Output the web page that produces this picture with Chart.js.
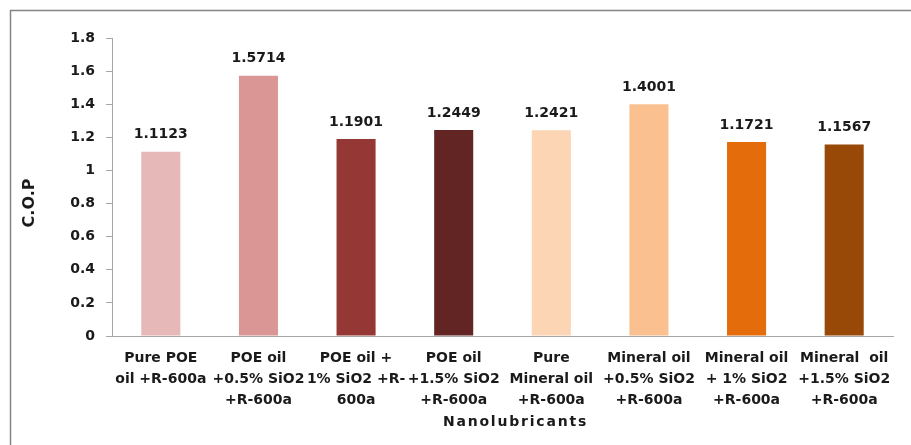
<!DOCTYPE html>
<html>
<head>
<meta charset="utf-8">
<script src="https://cdn.jsdelivr.net/npm/chart.js@4/dist/chart.umd.min.js"></script>
<style>
  html, body { margin: 0; padding: 0; background: #fff; }
  #wrap { position: relative; width: 911px; height: 445px; }
</style>
</head>
<body>
<div id="wrap"><canvas id="c" width="911" height="445"></canvas></div>
<script>
// Coefficient of performance for each nanolubricant blend
const categories = [
  ["Pure POE", "oil +R-600a"],
  ["POE oil", "+0.5% SiO2", "+R-600a"],
  ["POE oil +", "1% SiO2 +R-", "600a"],
  ["POE oil", "+1.5% SiO2", "+R-600a"],
  ["Pure", "Mineral oil", "+R-600a"],
  ["Mineral oil", "+0.5% SiO2", "+R-600a"],
  ["Mineral oil", "+ 1% SiO2", "+R-600a"],
  ["Mineral  oil", "+1.5% SiO2", "+R-600a"]
];
const copValues = [1.1123, 1.5714, 1.1901, 1.2449, 1.2421, 1.4001, 1.1721, 1.1567];
const barColors = ["#E6B9B8", "#D99694", "#953735", "#632523", "#FCD5B5", "#FAC090", "#E46C0A", "#984807"];
const yTickLabels = ["0", "0.2", "0.4", "0.6", "0.8", "1", "1.2", "1.4", "1.6", "1.8"];
const yTitle = "C.O.P";
const xTitle = "Nanolubricants";

const FONT = "'DejaVu Sans', sans-serif";
const INK = "#1a1a1a";

// Outer frame, value labels and axis titles
const decorations = {
  id: 'decorations',
  beforeDraw(chart) {
    const ctx = chart.ctx;
    ctx.save();
    ctx.strokeStyle = '#848484';
    ctx.lineWidth = 1.5;
    ctx.beginPath();
    ctx.moveTo(10.5, 460);
    ctx.lineTo(10.5, 10.5);
    ctx.lineTo(960, 10.5);
    ctx.stroke();
    ctx.restore();
  },
  afterDraw(chart) {
    const ctx = chart.ctx;
    const area = chart.chartArea;
    const meta = chart.getDatasetMeta(0);
    ctx.save();
    ctx.fillStyle = INK;
    ctx.font = "bold 14px " + FONT;
    ctx.textAlign = 'center';
    ctx.textBaseline = 'middle';
    meta.data.forEach((bar, i) => {
      ctx.fillText(copValues[i].toFixed(4), bar.x, bar.y - 17);
    });

    // x axis title
    ctx.font = "bold 14px " + FONT;
    ctx.letterSpacing = '1.8px';
    ctx.fillText(xTitle, (area.left + area.right) / 2 + 13, 422);
    ctx.letterSpacing = '0px';

    // y axis title
    ctx.translate(30, 203);
    ctx.rotate(-Math.PI / 2);
    ctx.font = "bold 16px " + FONT;
    ctx.fillText(yTitle, 0, 0);
    ctx.restore();
  }
};

new Chart(document.getElementById('c'), {
  type: 'bar',
  data: {
    labels: categories,
    datasets: [{
      data: copValues,
      backgroundColor: barColors,
      borderWidth: 0,
      categoryPercentage: 0.8,
      barPercentage: 0.5
    }]
  },
  options: {
    responsive: false,
    animation: false,
    devicePixelRatio: 1,
    layout: { padding: { top: 38, right: 18, left: 0, bottom: 0 } },
    plugins: { legend: { display: false }, tooltip: { enabled: false } },
    scales: {
      x: {
        grid: { display: false, drawTicks: false },
        border: { display: true, color: '#a6a6a6', width: 1 },
        ticks: {
          color: INK,
          padding: 12,
          maxRotation: 0,
          autoSkip: false,
          font: { family: FONT, size: 14, weight: 'bold', lineHeight: 1.5 }
        },
        afterFit(scale) { scale.height = 109; }
      },
      y: {
        min: 0,
        max: 1.8,
        grid: { drawOnChartArea: false, drawTicks: true, tickLength: 6, color: '#a6a6a6' },
        border: { display: true, color: '#a6a6a6', width: 1 },
        ticks: {
          stepSize: 0.2,
          color: INK,
          padding: 11,
          font: { family: FONT, size: 14, weight: 'bold' },
          callback: (v, i) => yTickLabels[i]
        },
        afterFit(scale) { scale.width = 112; }
      }
    }
  },
  plugins: [decorations]
});
</script>
</body>
</html>
